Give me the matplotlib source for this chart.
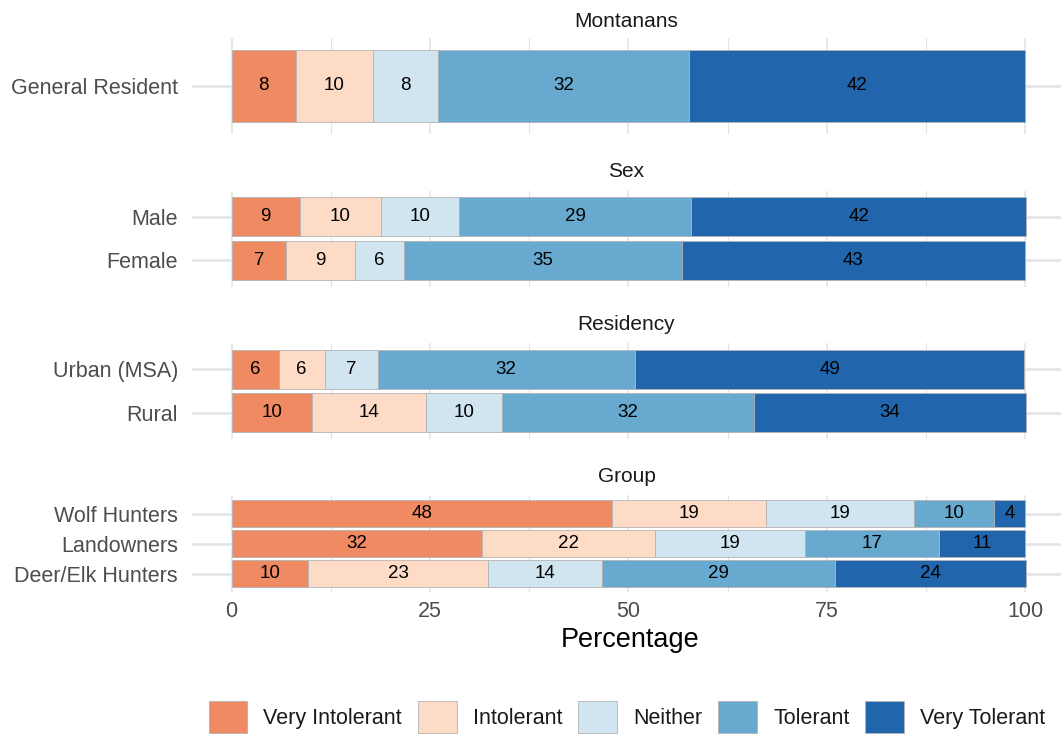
import numpy as np
import matplotlib
matplotlib.use("Agg")
import matplotlib.pyplot as plt
from matplotlib.patches import Patch

plt.rcParams["font.family"] = ["Liberation Sans", "DejaVu Sans"]

# response levels and fill colours (RdBu)
levels = ["Very Intolerant", "Intolerant", "Neither", "Tolerant", "Very Tolerant"]
colors = ["#EF8A62", "#FDDBC7", "#D1E5F0", "#67A9CF", "#2166AC"]

# percentages per row, in the order of `levels`
general_resident = [8.1, 9.7, 8.2, 31.6, 42.4]
male = [8.6, 10.2, 9.9, 29.2, 42.2]
female = [6.9, 8.6, 6.2, 35.0, 43.3]
urban = [5.9, 5.8, 6.7, 32.4, 49.1]
rural = [10.1, 14.4, 9.6, 31.7, 34.3]
wolf_hunters = [47.9, 19.4, 18.7, 10.1, 3.9]
landowners = [31.6, 21.8, 18.8, 16.9, 10.9]
deer_elk_hunters = [9.6, 22.7, 14.3, 29.4, 24.1]

facet_titles = ["Montanans", "Sex", "Residency", "Group"]
facet_rows = [
    (["General Resident"], [general_resident]),
    (["Male", "Female"], [male, female]),
    (["Urban (MSA)", "Rural"], [urban, rural]),
    (["Wolf Hunters", "Landowners", "Deer/Elk Hunters"],
     [wolf_hunters, landowners, deer_elk_hunters]),
]

W, H = 1061, 738
fig = plt.figure(figsize=(W / 100, H / 100), dpi=100)

left_px, right_px = 192, 1061
panel_h = 96
panel_tops = [38, 190.5, 343, 495.5]
title_gap = [11, 13.5, 13.5, 13.5]
grid_col = "#E3E3E3"

for i, title in enumerate(facet_titles):
    names, rows = facet_rows[i]
    top = panel_tops[i]
    ax = fig.add_axes([left_px / W, 1 - (top + panel_h) / H,
                       (right_px - left_px) / W, panel_h / H])
    n = len(names)
    ypos = np.arange(n)
    start = np.zeros(n)
    for j, (lvl, col) in enumerate(zip(levels, colors)):
        vals = np.array([r[j] for r in rows])
        bars = ax.barh(ypos, vals, left=start, height=0.9, color=col,
                       edgecolor="#B3B3B3", linewidth=0.6, label=lvl)
        ax.bar_label(bars, labels=[f"{v:.0f}" for v in vals],
                     label_type="center", fontsize=13.5, color="black")
        start += vals

    ax.set_xlim(-5, 104.5)
    ax.set_ylim(n - 1 + 0.6, -0.6)
    ax.set_yticks(ypos, names)
    ax.set_xticks([0, 25, 50, 75, 100])
    ax.set_xticks([12.5, 37.5, 62.5, 87.5], minor=True)
    ax.tick_params(axis="y", length=0, pad=10, labelsize=15.5, labelcolor="#4D4D4D")
    ax.tick_params(axis="x", which="both", length=0, pad=7, labelsize=15.5,
                   labelcolor="#4D4D4D", labelbottom=(i == 3))
    ax.set_axisbelow(True)
    ax.grid(True, which="major", axis="x", color=grid_col, linewidth=1.1)
    ax.grid(True, which="minor", axis="x", color=grid_col, linewidth=0.8)
    ax.grid(True, which="major", axis="y", color=grid_col, linewidth=1.8)
    for s in ax.spines.values():
        s.set_visible(False)

    fig.text((left_px + right_px) / 2 / W, 1 - (top - title_gap[i]) / H, title,
             ha="center", va="baseline", fontsize=15, color="#1A1A1A")

fig.text(630 / W, 1 - 647 / H, "Percentage", ha="center", va="baseline",
         fontsize=19.5, color="black")

handles = [Patch(facecolor=c, edgecolor="#B3B3B3", linewidth=0.6, label=l)
           for l, c in zip(levels, colors)]
leg = fig.legend(handles=handles, loc="center", bbox_to_anchor=(627 / W, 1 - 717 / H),
                 ncol=5, frameon=False, fontsize=15.5, handlelength=1.81,
                 handleheight=1.9, handletextpad=0.74, columnspacing=0.74,
                 borderpad=0, borderaxespad=0)
for t in leg.get_texts():
    t.set_color("#1A1A1A")

fig.savefig("out.png", dpi=100)
